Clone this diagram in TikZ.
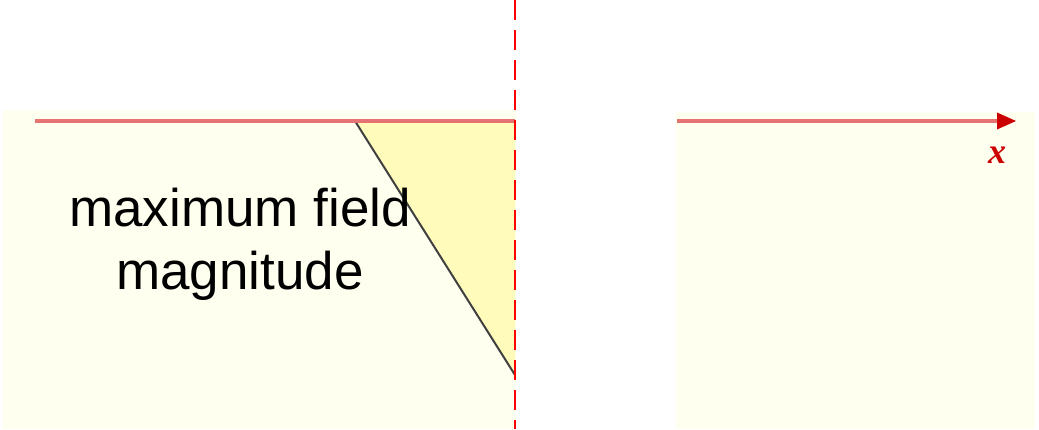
\documentclass[tikz,border=0pt]{standalone}
\usepackage{fontspec}
\setmainfont{Liberation Sans}
\newfontfamily\axisfont{Liberation Serif}
\usetikzlibrary{positioning,arrows.meta}

\begin{document}
\begin{tikzpicture}[
  x=1pt, y=-1pt,
  panel/.style={draw=none, fill=cPanel},
  axis/.style={draw=cAxis, line width=3.2pt},
  cut/.style={draw=red, line width=2.5pt, dash pattern=on 20pt off 10pt},
  lab/.style={font=\fontsize{53}{63}\selectfont, align=center, inner sep=0pt},
]
\definecolor{cPanel}{HTML}{FFFFF0}
\definecolor{cWedge}{HTML}{FFFBBB}
\definecolor{cAxis}{HTML}{E57373}
\definecolor{cTip}{HTML}{CC0000}

\useasboundingbox (0,0) rectangle (1039,429);

% panels
\fill[panel] (3,110) rectangle (516,429);
\fill[panel] (676,112) rectangle (1035,429);

% points
\coordinate (lstart) at (35,121);
\coordinate (apex) at (355,121);
\coordinate (wtop) at (515,121);
\coordinate (wbot) at (515,375);
\coordinate (rstart) at (677,121);
\coordinate (rend) at (1016,121);
\coordinate (ctop) at (515,0);
\coordinate (cbot) at (515,429);

% wedge
\fill[cWedge] (apex) -- (wtop) -- (wbot) -- cycle;
\draw[black!75, line width=2pt] (apex) -- (wbot);

% axes
\draw[axis] (lstart) -- (wtop);
\draw[axis, -{Triangle[length=19pt, width=17pt, color=cTip, line width=0pt]}] (rstart) -- (rend);
\draw[cut] (ctop) -- (cbot);

\node[lab] (mfm) at (240,244) {maximum field\\magnitude};
\node[text=cTip, font=\axisfont\bfseries\itshape\fontsize{36}{36}\selectfont] (xlab) at (997,155) {x};
\end{tikzpicture}
\end{document}
